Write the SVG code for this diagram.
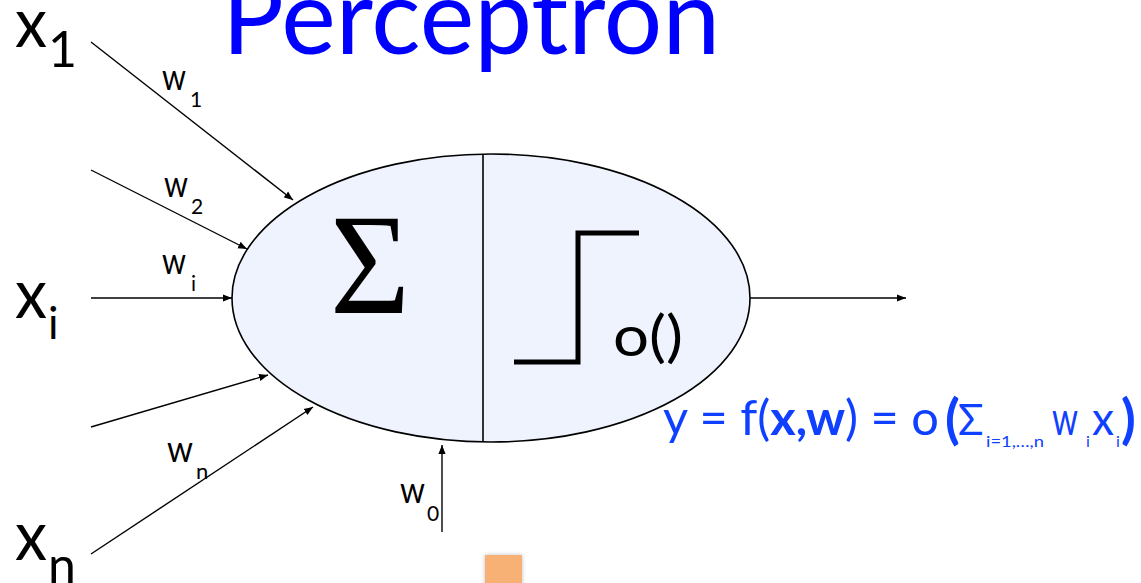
<svg xmlns="http://www.w3.org/2000/svg" width="1141" height="583" viewBox="0 0 1141 583">
<defs>
<marker id="ah" viewBox="0 0 10 10" refX="10" refY="5" markerWidth="9" markerHeight="9" markerUnits="userSpaceOnUse" orient="auto">
<path d="M0,1 L10,5 L0,9 Z" fill="#000"/>
</marker>
<filter id="sh" x="-30%" y="-30%" width="160%" height="160%">
<feDropShadow dx="0" dy="0" stdDeviation="2" flood-color="#000" flood-opacity="0.25"/>
</filter>
</defs>
<style>
.t{font-family:Lato,"Open Sans",sans-serif;fill:#000}
.b{font-family:Lato,"Open Sans",sans-serif;fill:#1040FF}
.ln{stroke:#000;stroke-width:1.4;fill:none}
</style>
<rect width="1141" height="583" fill="#fff"/>
<g id="title">
<text class="t" x="222" y="54" font-size="104" textLength="498" lengthAdjust="spacingAndGlyphs" style="fill:#0000FF">Perceptron</text>
</g>
<g id="neuron">
<ellipse cx="491" cy="298" rx="259" ry="144" fill="#EEF3FD" stroke="#000" stroke-width="1.6"/>
<line x1="483" y1="154" x2="483" y2="442" stroke="#000" stroke-width="1.6"/>
<text x="330" y="313" font-family="Liberation Serif,serif" font-size="145" textLength="80" lengthAdjust="spacingAndGlyphs">Σ</text>
<path d="M514,362 H578 V233 H639" fill="none" stroke="#000" stroke-width="5"/>
<text class="t" x="613" y="356" font-size="57" textLength="70" lengthAdjust="spacingAndGlyphs">o()</text>
</g>
<g id="connectors">
<line class="ln" x1="91" y1="42" x2="293" y2="200" marker-end="url(#ah)"/>
<line class="ln" x1="91" y1="170" x2="247" y2="249" marker-end="url(#ah)"/>
<line class="ln" x1="91" y1="298" x2="232" y2="298" marker-end="url(#ah)"/>
<line class="ln" x1="91" y1="427" x2="268" y2="375" marker-end="url(#ah)"/>
<line class="ln" x1="91" y1="554" x2="313" y2="407" marker-end="url(#ah)"/>
<line class="ln" x1="442" y1="532" x2="442" y2="445" marker-end="url(#ah)"/>
<line class="ln" x1="750" y1="298" x2="906" y2="298" marker-end="url(#ah)"/>
</g>
<g id="x1">
<text class="t" x="15" y="47" font-size="69" textLength="32" lengthAdjust="spacingAndGlyphs">x</text>
<text class="t" x="48" y="67" font-size="50">1</text>
</g>
<g id="xi">
<text class="t" x="15" y="318" font-size="69" textLength="32" lengthAdjust="spacingAndGlyphs">x</text>
<text class="t" x="48" y="339" font-size="44">i</text>
</g>
<g id="xn">
<text class="t" x="15" y="560" font-size="69" textLength="32" lengthAdjust="spacingAndGlyphs">x</text>
<text class="t" x="48" y="583" font-size="50">n</text>
</g>
<g id="w1">
<text class="t" x="162" y="90" font-size="37" textLength="24" lengthAdjust="spacingAndGlyphs">w</text>
<text class="t" x="190" y="107" font-size="21">1</text>
</g>
<g id="w2">
<text class="t" x="164" y="197" font-size="37" textLength="24" lengthAdjust="spacingAndGlyphs">w</text>
<text class="t" x="191" y="214" font-size="21">2</text>
</g>
<g id="wi">
<text class="t" x="162" y="274" font-size="37" textLength="24" lengthAdjust="spacingAndGlyphs">w</text>
<text class="t" x="191" y="291" font-size="21">i</text>
</g>
<g id="wn">
<text class="t" x="167" y="462" font-size="37" textLength="26" lengthAdjust="spacingAndGlyphs">w</text>
<text class="t" x="196" y="479" font-size="22">n</text>
</g>
<g id="w0">
<text class="t" x="400" y="503" font-size="37" textLength="25" lengthAdjust="spacingAndGlyphs">w</text>
<text class="t" x="427" y="521" font-size="21">0</text>
</g>
<g id="formula">
<text class="b" x="663" y="435" font-size="48" textLength="276" lengthAdjust="spacingAndGlyphs">y = f(<tspan font-weight="bold">x,w</tspan>) = o</text>
<text class="b" x="945" y="438" font-size="54" font-weight="bold">(</text>
<text class="b" x="958" y="435" font-size="42">Σ</text>
<text class="b" x="986" y="447" font-size="16" textLength="58" lengthAdjust="spacingAndGlyphs">i=1,…,n</text>
<text class="b" x="1052" y="435" font-size="47" textLength="26" lengthAdjust="spacingAndGlyphs">w</text>
<text class="b" x="1086" y="447" font-size="16">i</text>
<text class="b" x="1092" y="435" font-size="47" textLength="22" lengthAdjust="spacingAndGlyphs">x</text>
<text class="b" x="1116" y="447" font-size="16">i</text>
<text class="b" x="1121" y="438" font-size="54" font-weight="bold">)</text>
</g>
<g id="marker-box">
<rect x="485" y="555" width="37" height="32" fill="#F8B174" filter="url(#sh)"/>
</g>
</svg>
